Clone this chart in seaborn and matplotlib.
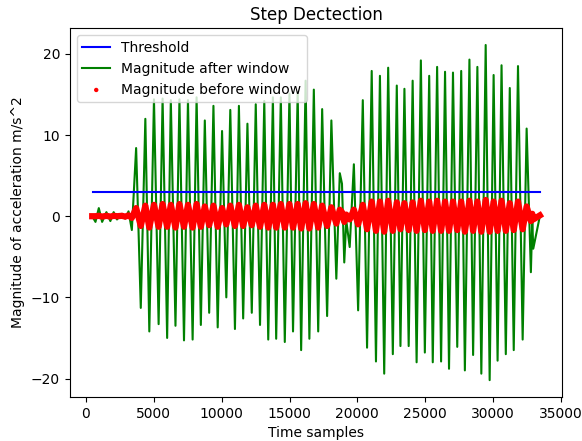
import seaborn as sns
import matplotlib.pyplot as plt

# time samples where the signal turns
sample_x = [
    460, 700, 945, 1190, 1505, 1797, 2040, 2286, 2650, 2890,
    3135, 3380, 3696, 4039, 4375, 4668, 5011, 5354, 5646, 5982,
    6253, 6596, 6888, 7224, 7516, 7860, 8152, 8466, 8758, 9080,
    9394, 9708, 10029, 10343, 10636, 10979, 11271, 11585, 11899, 12220,
    12513, 12827, 13141, 13433, 13776, 14018, 14361, 14653, 14996, 15259,
    15603, 15858, 16187, 16465, 16793, 17115, 17407, 17772, 18086, 18451,
    18707, 18868, 19036, 19182, 19437, 19744, 20058, 20402, 20716, 21059,
    21373, 21665, 21980, 22272, 22615, 22907, 23177, 23470, 23784, 24076,
    24368, 24682, 24975, 25296, 25559, 25880, 26172, 26464, 26757, 27049,
    27363, 27655, 27925, 28261, 28532, 28846, 29138, 29459, 29752, 30044,
    30336, 30628, 30942, 31235, 31527, 31841, 32184, 32477, 32790, 32893,
    32966, 33450,
]

# magnitude after window (green)
after_window = [
    0.0, -0.7, 1.0, -0.7, 0.5, -0.6, 0.5, -0.4, 0.3, -0.3,
    0.6, -1.7, 8.4, -11.3, 12.0, -14.2, 14.4, -13.3, 14.5, -15.0,
    14.3, -13.5, 14.4, -15.3, 14.3, -15.2, 14.65, -13.4, 11.8, -11.9,
    13.6, -13.7, 10.5, -10.0, 13.1, -13.9, 13.6, -12.6, 11.4, -11.9,
    13.8, -13.4, 14.2, -15.2, 14.65, -15.1, 14.65, -15.5, 15.1, -14.2,
    15.3, -16.5, 16.7, -15.1, 15.6, -14.2, 13.2, -12.3, 11.8, -7.7,
    5.3, 4.0, -5.7, -0.5, -3.8, 6.4, -11.6, 14.3, -16.2, 17.9,
    -17.9, 17.3, -19.4, 18.3, -17.0, 16.1, -16.0, 15.7, -16.0, 16.7,
    -18.0, 19.2, -16.8, 17.3, -18.0, 18.4, -17.9, 17.8, -18.8, 17.7,
    -16.1, 17.9, -19.0, 19.3, -17.1, 18.4, -19.4, 21.1, -20.2, 17.4,
    -17.8, 18.6, -17.0, 15.8, -16.5, 18.5, -15.2, 10.8, -6.9, -0.5,
    -4.0, 0.0,
]

# magnitude before window (red)
before_window = [
    0.0, 0.0, 0.05, -0.05, 0.05, -0.05, 0.05, 0.0, 0.05, -0.05,
    0.1, -0.2, 1.0, -1.2, 1.3, -1.4, 1.4, -1.3, 1.5, -1.3,
    1.4, -1.4, 1.5, -1.3, 1.4, -1.4, 1.5, -1.3, 1.2, -1.1,
    1.3, -1.3, 1.0, -1.0, 1.3, -1.2, 1.4, -1.2, 1.1, -1.1,
    1.3, -1.3, 1.4, -1.4, 1.4, -1.4, 1.5, -1.4, 1.5, -1.4,
    1.5, -1.5, 1.6, -1.5, 1.5, -1.4, 1.3, -1.2, 1.1, -0.9,
    0.8, 0.5, -0.7, 0.2, -0.4, 0.8, -1.0, 1.4, -1.6, 1.8,
    -1.8, 1.8, -1.9, 1.9, -1.8, 1.7, -1.6, 1.6, -1.7, 1.7,
    -1.8, 1.9, -1.7, 1.8, -1.8, 1.9, -1.8, 1.8, -1.8, 1.8,
    -1.7, 1.8, -1.9, 1.9, -1.8, 1.8, -1.9, 2.0, -1.9, 1.8,
    -1.8, 1.9, -1.8, 1.6, -1.7, 1.8, -1.6, 1.2, -0.6, 0.3,
    -0.4, 0.1,
]

threshold_x = [500, 33450]
threshold_y = [3, 3]

fig, ax = plt.subplots(figsize=(5.82, 4.41), dpi=100)
fig.subplots_adjust(left=0.120, right=0.966, bottom=0.100, top=0.936)

sns.lineplot(x=threshold_x, y=threshold_y, color='blue', lw=1.5,
             label='Threshold', zorder=3, ax=ax)
sns.lineplot(x=sample_x, y=after_window, color='green', lw=1.5,
             label='Magnitude after window', zorder=2, ax=ax)
# dense red dots form a thick band
sns.lineplot(x=sample_x, y=before_window, color='red', lw=4.5,
             legend=False, zorder=4, ax=ax)
sns.scatterplot(x=sample_x, y=before_window, color='red', s=10,
                edgecolor='none', label='Magnitude before window',
                zorder=4, ax=ax)

ax.set_title('Step Dectection')
ax.set_xlabel('Time samples')
ax.set_ylabel('Magnitude of acceleration m/s^2')
ax.legend(loc='upper left')

plt.savefig('out.png')
